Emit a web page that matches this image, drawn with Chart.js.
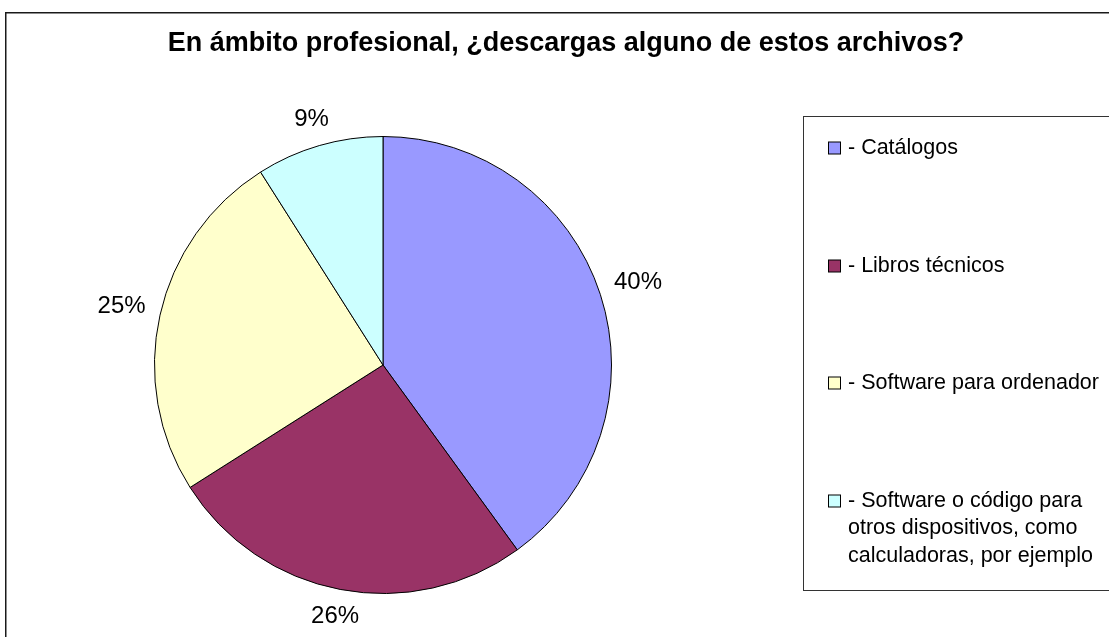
<!DOCTYPE html>
<html>
<head>
<meta charset="utf-8">
<script src="https://cdn.jsdelivr.net/npm/chart.js@4"></script>
<style>
    html, body { margin: 0; padding: 0; background: #fff; }
</style>
</head>
<body>
<canvas id="MyChart" width="1109" height="637"></canvas>
<script>
const chartTitle = 'En ámbito profesional, ¿descargas alguno de estos archivos?'
const categories = [
    ['- Catálogos'],
    ['- Libros técnicos'],
    ['- Software para ordenador'],
    ['- Software o código para', 'otros dispositivos, como', 'calculadoras, por ejemplo']
]
const shares = [40, 26, 25, 9]
const sliceColors = ['#9999FF', '#993366', '#FFFFCC', '#CCFFFF']

const font = "'Liberation Sans', Arial, sans-serif"

// title, percent labels, legend box and outer frame
const decorations = {
    id: 'decorations',
    afterDraw(chart) {
        const ctx = chart.ctx
        ctx.save()

        ctx.strokeStyle = '#1a1a1a'
        ctx.lineWidth = 1.5
        ctx.strokeRect(5.75, 12.75, 1200, 700)

        ctx.fillStyle = '#000'
        ctx.textAlign = 'center'
        ctx.textBaseline = 'middle'
        ctx.font = 'bold 27px ' + font
        ctx.fillText(chartTitle, 566, 44)

        // percentages outside the slices
        ctx.font = '24px ' + font
        const total = shares.reduce((a, b) => a + b, 0)
        chart.getDatasetMeta(0).data.forEach((arc, i) => {
            const p = arc.getProps(['x', 'y', 'startAngle', 'endAngle', 'outerRadius'], true)
            const mid = (p.startAngle + p.endAngle) / 2
            const txt = Math.round(shares[i] / total * 100) + '%'
            const w = ctx.measureText(txt).width
            const c = Math.cos(mid), s = Math.sin(mid)
            const d = p.outerRadius + 14 + Math.abs(c) * w / 2 + Math.abs(s) * 9
            ctx.fillText(txt, p.x + d * c, p.y + d * s)
        })

        // legend
        ctx.strokeStyle = '#333'
        ctx.lineWidth = 1
        ctx.strokeRect(803.5, 116.5, 320, 474)
        const rowY = [148, 266, 383, 501]
        ctx.font = '21.5px ' + font
        ctx.textAlign = 'left'
        categories.forEach((lines, i) => {
            ctx.fillStyle = sliceColors[i]
            ctx.fillRect(828.5, rowY[i] - 6, 12, 12)
            ctx.strokeStyle = '#000'
            ctx.strokeRect(828.5, rowY[i] - 6, 12, 12)
            ctx.fillStyle = '#000'
            lines.forEach((line, j) => {
                ctx.fillText(line, 848, rowY[i] + j * 27.5)
            })
        })
        ctx.restore()
    }
}

let MyChart = document.getElementById('MyChart').getContext('2d')

let downloadsChart = new Chart(MyChart, {
    type: 'pie',
    data: {
        labels: categories.map(l => l.join(' ')),
        datasets: [{
            data: shares,
            backgroundColor: sliceColors,
            borderColor: '#000',
            borderWidth: 1
        }]
    },
    options: {
        responsive: false,
        animation: false,
        devicePixelRatio: 1,
        layout: {
            padding: { left: 154, right: 497, top: 136, bottom: 43 }
        },
        plugins: {
            legend: { display: false },
            title: { display: false },
            tooltip: { enabled: false }
        }
    },
    plugins: [decorations]
})
</script>
</body>
</html>
